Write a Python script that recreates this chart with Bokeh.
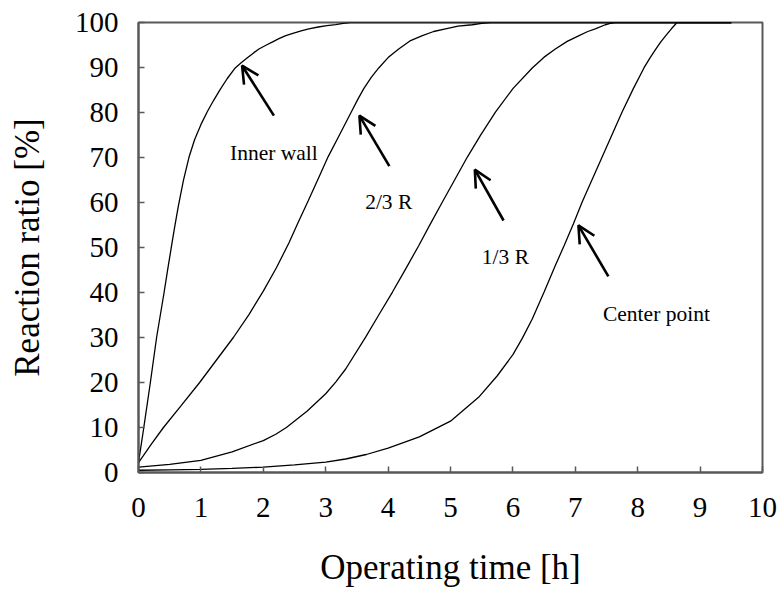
from bokeh.plotting import figure
from bokeh.models import Range1d, FixedTicker, Arrow, OpenHead, ColumnDataSource
from bokeh.core.properties import value
from bokeh.embed import file_html
from bokeh.resources import INLINE

# ---- data ----
inner_x = [0, 0.085, 0.19, 0.29, 0.41, 0.47, 0.53, 0.58, 0.64, 0.72, 0.81, 0.90, 1.00, 1.10, 1.20,
           1.30, 1.42, 1.55, 1.65, 1.75, 1.85, 1.93, 2.05, 2.15, 2.25, 2.36, 2.50, 2.62, 2.73, 2.88,
           3.02, 3.16, 3.28, 3.40, 9.50]
inner_y = [2.2, 10, 20, 30, 40, 45.3, 50.4, 54.6, 59.3, 64.9, 70.1, 74.0, 77.3, 80.1, 82.6,
           84.9, 87.5, 89.9, 91.1, 92.2, 93.3, 94.1, 95.0, 95.7, 96.4, 97.1, 97.7, 98.2, 98.6, 99.0,
           99.3, 99.55, 99.8, 100, 100]

r23_x = [0, 0.20, 0.40, 0.68, 0.98, 1.25, 1.52, 1.77, 2.00, 2.21, 2.41, 2.56, 2.72, 2.88, 3.04,
         3.22, 3.41, 3.51, 3.61, 3.73, 3.85, 4.00, 4.17, 4.35, 4.55, 4.73, 4.92, 5.12, 5.35, 5.50,
         5.65, 9.50]
r23_y = [2.2, 6.2, 10, 14.8, 20, 25, 30, 35.1, 40.3, 45.5, 51.0, 55.6, 60.4, 65.3, 70.2,
         75.0, 80.1, 82.8, 85.3, 87.8, 89.9, 92.2, 94.1, 95.9, 97.1, 98.0, 98.6, 99.2, 99.5, 99.8,
         100, 100]

r13_x = [0, 0.5, 1.0, 1.5, 2.0, 2.2, 2.37, 2.7, 3.0, 3.16, 3.32, 3.64, 3.85, 4.07, 4.28, 4.49,
         4.68, 4.87, 5.07, 5.27, 5.48, 5.72, 6.00, 6.31, 6.50, 6.68, 6.87, 7.06, 7.20, 7.32, 7.48,
         7.56, 7.64, 9.50]
r13_y = [1.2, 1.8, 2.7, 4.6, 7.1, 8.5, 10, 13.6, 17.5, 20.1, 23.0, 30.1, 35.0, 40.1, 45.2, 50.4,
         55.3, 60.1, 65.1, 70.1, 74.9, 80.1, 85.3, 89.9, 92.3, 94.1, 95.8, 97.1, 98.0, 98.6, 99.5,
         99.8, 100, 100]

center_x = [0, 0.5, 1.0, 1.5, 2.0, 2.5, 3.0, 3.32, 3.65, 4.0, 4.5, 5.0, 5.45, 5.75, 6.0, 6.15,
            6.31, 6.50, 6.68, 6.82, 6.97, 7.11, 7.27, 7.43, 7.59, 7.75, 7.93, 8.10, 8.20, 8.29,
            8.37, 8.45, 8.54, 8.63, 9.50]
center_y = [0.5, 0.6, 0.7, 0.9, 1.2, 1.7, 2.3, 3.0, 4.0, 5.4, 7.9, 11.4, 16.7, 21.5, 26.2, 29.8,
            34.1, 40.1, 46.0, 50.4, 55.3, 60.1, 65.1, 70.1, 75.1, 80.1, 85.3, 89.9, 92.2, 94.1,
            95.7, 97.1, 98.6, 100, 100]

label_text = ["Inner wall", "2/3 R", "1/3 R", "Center point"]
label_x = [2.17, 4.01, 5.88, 8.30]
label_y = [70.9, 60.1, 47.8, 35.3]

arrow_tail_x = [2.17, 4.02, 5.85, 7.53]
arrow_tail_y = [79.3, 68.1, 56.0, 43.6]
arrow_tip_x = [1.66, 3.54, 5.39, 7.05]
arrow_tip_y = [90.4, 79.3, 67.3, 54.9]

x_ticks = [0, 1, 2, 3, 4, 5, 6, 7, 8, 9, 10]
y_ticks = [0, 10, 20, 30, 40, 50, 60, 70, 80, 90, 100]

FONT = "Liberation Serif"
GRAY = "#595959"

p = figure(width=782, height=592, output_backend="svg", toolbar_location=None,
           x_range=Range1d(0, 10), y_range=Range1d(0, 100),
           min_border_left=138, min_border_right=20, min_border_top=22, min_border_bottom=120)
p.background_fill_color = "white"
p.border_fill_color = "white"
p.outline_line_color = GRAY
p.outline_line_width = 2
p.xgrid.visible = False
p.ygrid.visible = False

for ax, ticks in ((p.xaxis, x_ticks), (p.yaxis, y_ticks)):
    ax.ticker = FixedTicker(ticks=ticks)
    ax.minor_tick_line_color = None
    ax.major_tick_in = 6
    ax.major_tick_out = 0
    ax.major_tick_line_color = GRAY
    ax.major_tick_line_width = 1.5
    ax.axis_line_color = GRAY
    ax.axis_line_width = 2
    ax.major_label_text_font = FONT
    ax.major_label_text_font_size = "29px"
    ax.major_label_text_color = "black"
    ax.axis_label_text_font = FONT
    ax.axis_label_text_font_size = "35px"
    ax.axis_label_text_font_style = "normal"
    ax.axis_label_text_color = "black"

p.xaxis.axis_label = "Operating time [h]"
p.yaxis.axis_label = "Reaction ratio [%]"
p.xaxis.major_label_standoff = 25
p.yaxis.major_label_standoff = 20
p.xaxis.axis_label_standoff = 28
p.yaxis.axis_label_standoff = 25

for xs, ys in ((inner_x, inner_y), (r23_x, r23_y), (r13_x, r13_y), (center_x, center_y)):
    p.line(xs, ys, line_color="black", line_width=1.3)

for x0, y0, x1, y1 in zip(arrow_tail_x, arrow_tail_y, arrow_tip_x, arrow_tip_y):
    p.add_layout(Arrow(x_start=x0, y_start=y0, x_end=x1, y_end=y1,
                       line_color="black", line_width=2.6,
                       end=OpenHead(size=17, line_color="black", line_width=2.6)))

src = ColumnDataSource(dict(x=label_x, y=label_y, t=label_text))
p.text(x="x", y="y", text="t", source=src, text_font=value(FONT),
       text_font_size="21.5px", text_align="center", text_baseline="alphabetic",
       text_color="black")

open("out.html", "w").write(file_html(p, INLINE))
